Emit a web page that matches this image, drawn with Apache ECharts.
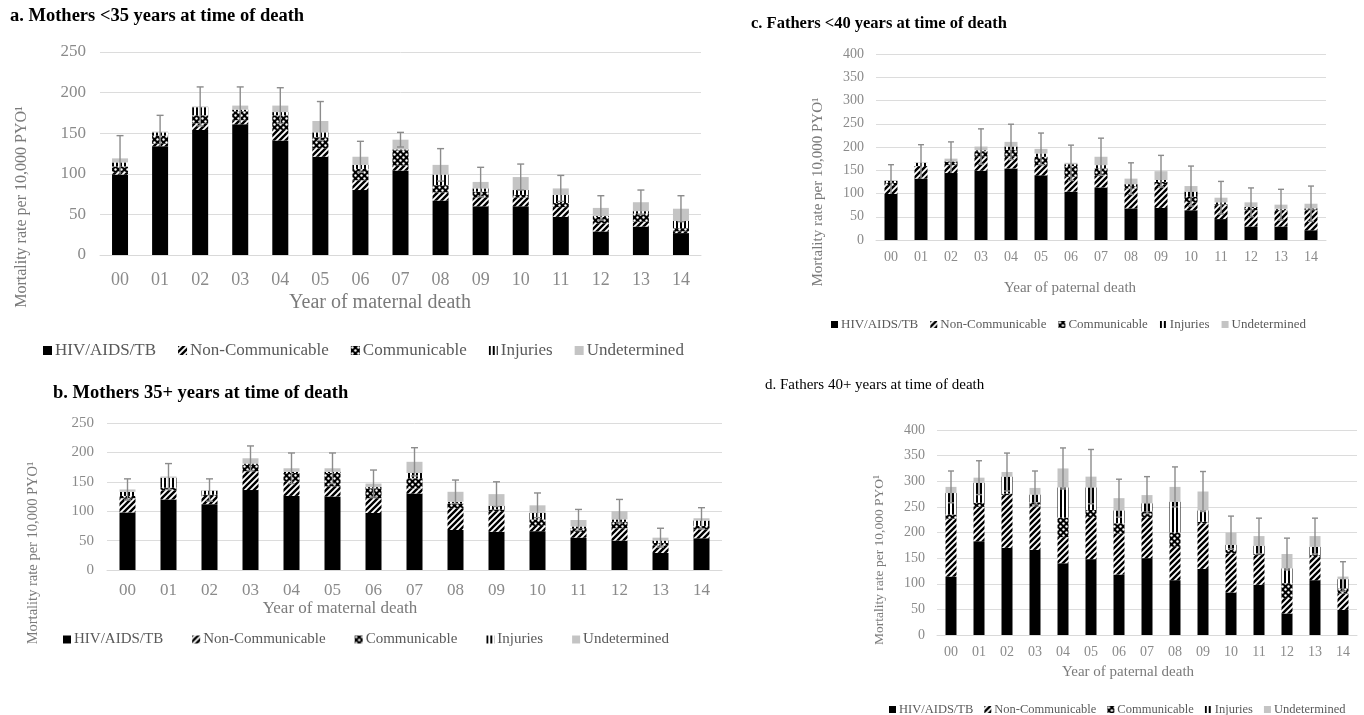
<!DOCTYPE html>
<html><head><meta charset="utf-8">
<script src="https://cdn.jsdelivr.net/npm/echarts@6/dist/echarts.min.js"></script>
<style>html,body{margin:0;padding:0;background:#fff}#c{width:1364px;height:715px}</style>
</head><body><div id="c"></div>
<script>
const years = ['00','01','02','03','04','05','06','07','08','09','10','11','12','13','14'];
const causes = ['HIV/AIDS/TB','Non-Communicable','Communicable','Injuries','Undetermined'];

// a. Mothers <35
const aHIV  = [99,134,154,161,141,121,80,104,67,60,60,47,29,35,27];
const aNonC = [3,3,8,5,13,10,12,6,10,11,11,12,10,6,2];
const aComm = [7,10,10,11,18,14,14,19,9,7,3,5,8,10,4];
const aInj  = [5,4,10,2,4,6,5,1,13,4,6,10,1,3,9];
const aUnd  = [5,1,1,5,8,14,10,12,12,8,16,8,10,11,15];
const aErr  = [147,172,207,207,206,189,140,151,131,108,112,98,73,80,73];
// b. Mothers 35+
const bHIV  = [98,120,112,136,126,125,97,130,68,65,66,55,50,29,54];
const bNonC = [24,15,14,32,25,17,25,9,37,34,9,8,21,13,15];
const bComm = [4,5,2,11,14,23,17,17,8,4,11,8,11,4,6];
const bInj  = [7,17,7,2,2,2,2,9,3,6,11,3,4,4,9];
const bUnd  = [4,2,1,9,6,6,6,19,17,20,13,11,14,5,4];
const bErr  = [155,181,155,211,199,199,170,208,153,150,131,103,120,71,106];
// c. Fathers <40
const cHIV  = [99,132,144,149,154,139,104,113,68,69,64,45,29,29,21];
const cNonC = [19,25,17,30,25,22,32,26,43,51,17,30,35,35,43];
const cComm = [5,2,7,12,15,18,23,15,5,5,12,2,5,1,2];
const cInj  = [4,7,1,2,7,7,4,7,4,4,11,4,2,2,2];
const cUnd  = [2,1,6,8,10,10,3,18,12,19,12,10,10,9,10];
const cErr  = [162,205,211,239,249,230,204,219,166,182,159,126,112,109,116];
// d. Fathers 40+
const dHIV  = [114,183,170,166,140,148,118,150,107,129,83,98,42,107,49];
const dNonC = [113,67,103,85,51,82,80,80,65,89,76,58,30,45,32];
const dComm = [8,8,3,8,38,14,20,11,28,3,7,3,29,4,10];
const dInj  = [42,39,33,15,59,44,25,16,60,22,10,15,29,16,18];
const dUnd  = [12,10,9,13,37,21,24,16,29,37,24,19,28,21,5];
const dErr  = [320,340,355,320,365,362,304,309,328,319,232,228,189,228,143];

const yMaxA = 250, yMaxB = 250, yMaxC = 400, yMaxD = 400;

function pat(kind){
  const c = document.createElement('canvas');
  const s = kind==='inj'?4:6;
  c.width = s; c.height = s;
  const g = c.getContext('2d');
  if(kind==='diag'){
    g.fillStyle='#fff'; g.fillRect(0,0,s,s);
    g.strokeStyle='#000'; g.lineWidth=2.4;
    g.beginPath();
    g.moveTo(-1,s+1); g.lineTo(s+1,-1);
    g.moveTo(-1,1); g.lineTo(1,-1);
    g.moveTo(s-1,s+1); g.lineTo(s+1,s-1);
    g.stroke();
  } else if(kind==='comm'){
    g.fillStyle='#000'; g.fillRect(0,0,s,s);
    g.fillStyle='#fff';
    g.beginPath(); g.arc(1.5,1.5,1.2,0,Math.PI*2); g.fill();
    g.beginPath(); g.arc(4.5,4.5,1.2,0,Math.PI*2); g.fill();
  } else {
    g.fillStyle='#fff'; g.fillRect(0,0,s,s);
    g.fillStyle='#000'; g.fillRect(0,0,2,s);
  }
  return {image:c, repeat:'repeat'};
}
const fills = ['#000', pat('diag'), pat('comm'), pat('inj'), '#c4c4c4'];

const FF = 'Liberation Serif';
const panels = [
  {data:[aHIV,aNonC,aComm,aInj,aUnd], err:aErr, max:yMaxA, grid:{left:100,top:52,width:601,height:203}, bw:16, cap:3.5, yfs:17, yMargin:14, xfs:18, xMargin:16},
  {data:[bHIV,bNonC,bComm,bInj,bUnd], err:bErr, max:yMaxB, grid:{left:107,top:423,width:615,height:147}, bw:16, cap:3.5, yfs:15, yMargin:13, xfs:17, xMargin:12},
  {data:[cHIV,cNonC,cComm,cInj,cUnd], err:cErr, max:yMaxC, grid:{left:876,top:54,width:450,height:186}, bw:13, cap:3, yfs:14, yMargin:12, xfs:14, xMargin:10},
  {data:[dHIV,dNonC,dComm,dInj,dUnd], err:dErr, max:yMaxD, grid:{left:937,top:430,width:420,height:205}, bw:11, cap:3, yfs:14, yMargin:12, xfs:14, xMargin:10}
];

const grids=[], xAxes=[], yAxes=[], series=[];
panels.forEach((p,i)=>{
  grids.push(Object.assign({containLabel:false}, p.grid));
  xAxes.push({type:'category', gridIndex:i, data:years,
    axisLine:{lineStyle:{color:'#d9d9d9'}}, axisTick:{show:false},
    axisLabel:{color:'#8a8a8a', fontFamily:FF, fontSize:p.xfs, margin:p.xMargin}});
  yAxes.push({type:'value', gridIndex:i, min:0, max:p.max, interval:50,
    axisLine:{show:false}, axisTick:{show:false},
    splitLine:{lineStyle:{color:'#dcdcdc', width:1}},
    axisLabel:{color:'#8a8a8a', fontFamily:FF, fontSize:p.yfs, margin:p.yMargin}});
  causes.forEach((name,k)=>{
    series.push({type:'bar', name:name, stack:'s'+i, xAxisIndex:i, yAxisIndex:i,
      barWidth:p.bw, data:p.data[k], itemStyle:{color:fills[k]}, emphasis:{disabled:true}, z:2});
  });
  const errData = years.map((y,j)=>{
    let tot=0; p.data.forEach(arr=>tot+=arr[j]);
    return [j, tot, p.err[j], p.data[0][j]];
  });
  const cap = p.cap;
  series.push({type:'custom', name:'err'+i, xAxisIndex:i, yAxisIndex:i, z:5,
    encode:{x:0, y:[1,2]}, data:errData, silent:true,
    renderItem:function(params, api){
      const x=api.value(0), t=api.value(1), hi=api.value(2), base=api.value(3);
      const lo = t-(hi-t);
      const showLowCap = lo > base + 2;
      const loDraw = showLowCap ? lo : Math.max(base, Math.min(t, lo));
      const pt=api.coord([x,hi]), pb=api.coord([x,loDraw]);
      const st={stroke:'#8c8c8c', lineWidth:1.4};
      const ch=[
        {type:'line', shape:{x1:pt[0],y1:pt[1],x2:pb[0],y2:pb[1]}, style:st},
        {type:'line', shape:{x1:pt[0]-cap,y1:pt[1],x2:pt[0]+cap,y2:pt[1]}, style:st}
      ];
      if(showLowCap) ch.push({type:'line', shape:{x1:pb[0]-cap,y1:pb[1],x2:pb[0]+cap,y2:pb[1]}, style:st});
      return {type:'group', children:ch};
    }});
});

function legend(left, top, fs, gap, isz){
  return {left:left, top:top, itemGap:gap, itemWidth:isz, itemHeight:isz, icon:'rect',
    data:causes, selectedMode:false, textStyle:{color:'#595959', fontFamily:FF, fontSize:fs, padding:[0,0,0,-2]}};
}

function txt(text, x, y, fs, opts){
  opts = opts||{};
  return {type:'text', x:x, y:y, rotation:opts.rot||0, silent:true,
    style:{text:text, fontSize:fs, fontFamily:FF, fontWeight:opts.bold?'bold':'normal',
      fill:opts.color||'#000', textAlign:opts.align||'left', align:opts.align||'left',
      textVerticalAlign:'middle', verticalAlign:'middle'}};
}

const option = {
  animation:false,
  grid:grids, xAxis:xAxes, yAxis:yAxes, series:series,
  legend:[
    legend(38, 337, 17, 22, 9),
    legend(58, 627, 15, 29, 8),
    legend(826, 313, 13, 12, 7),
    legend(884, 698, 12.5, 11, 7)
  ],
  graphic:[
    txt('a. Mothers <35 years at time of death', 10, 16, 18.5, {bold:true}),
    txt('b. Mothers 35+ years at time of death', 53, 393, 18.5, {bold:true}),
    txt('c. Fathers <40 years at time of death', 751, 24, 16.5, {bold:true}),
    txt('d. Fathers 40+ years at time of death', 765, 385, 15),
    txt('Year of maternal death', 380, 303, 20, {align:'center', color:'#7a7a7a'}),
    txt('Year of maternal death', 340, 609, 17, {align:'center', color:'#7a7a7a'}),
    txt('Year of paternal death', 1070, 288, 15, {align:'center', color:'#7a7a7a'}),
    txt('Year of paternal death', 1128, 672, 15, {align:'center', color:'#7a7a7a'}),
    txt('Mortality rate per 10,000 PYO\u00b9', 22, 207, 16, {align:'center', color:'#7a7a7a', rot:Math.PI/2}),
    txt('Mortality rate per 10,000 PYO\u00b9', 33, 553, 14.5, {align:'center', color:'#7a7a7a', rot:Math.PI/2}),
    txt('Mortality rate per 10,000 PYO\u00b9', 818, 192, 15, {align:'center', color:'#7a7a7a', rot:Math.PI/2}),
    txt('Mortality rate per 10,000 PYO\u00b9', 879, 560, 13.5, {align:'center', color:'#7a7a7a', rot:Math.PI/2})
  ]
};
const chart = echarts.init(document.getElementById('c'), null, {renderer:'canvas'});
chart.setOption(option);
</script></body></html>
